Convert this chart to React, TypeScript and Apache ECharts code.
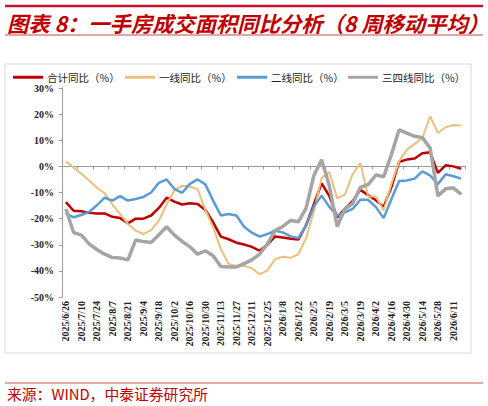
import React, { useEffect, useRef } from 'react';
import * as echarts from 'echarts';

const dates = [
  '2025/6/26', '2025/7/3', '2025/7/10', '2025/7/17', '2025/7/24', '2025/7/31', '2025/8/7', '2025/8/14',
  '2025/8/21', '2025/8/28', '2025/9/4', '2025/9/11', '2025/9/18', '2025/9/25', '2025/10/2', '2025/10/9',
  '2025/10/16', '2025/10/23', '2025/10/30', '2025/11/6', '2025/11/13', '2025/11/20', '2025/11/27', '2025/12/4',
  '2025/12/11', '2025/12/18', '2025/12/25', '2026/1/1', '2026/1/8', '2026/1/15', '2026/1/22', '2026/1/29',
  '2026/2/5', '2026/2/12', '2026/2/19', '2026/2/26', '2026/3/5', '2026/3/12', '2026/3/19', '2026/3/26',
  '2026/4/2', '2026/4/9', '2026/4/16', '2026/4/23', '2026/4/30', '2026/5/7', '2026/5/14', '2026/5/21',
  '2026/5/28', '2026/6/4', '2026/6/11', '2026/6/18',
];

const totalYoY = [
  -13.7, -17, -17.2, -17.8, -18, -18, -19.3, -19.8, -21.8, -20, -20, -18.8, -15.9, -12, -13.5, -14.6,
  -14.1, -14.4, -16.7, -21.4, -26.9, -27.9, -29.2, -29.9, -30.8, -32.3, -30, -26.8, -27.2, -27.7, -28, -22.5,
  -14.5, -6.5, -11.4, -19.5, -16.3, -13.3, -9, -11, -13, -15.5, -8, 1.8, 2.6, 3, 5, 5.4,
  -2.5, 0.4, 0, -0.9,
];

const tier1YoY = [
  2, -0.5, -2.8, -5.4, -8.2, -10.3, -14.6, -18.2, -22, -24.6, -25.9, -24.4, -20.8, -14.5, -9.2, -7.4,
  -7.7, -8.8, -16.7, -23.3, -31.7, -37.4, -38.1, -38.1, -39, -41.3, -39.8, -35.5, -34.6, -35, -33.6, -27.4,
  -17.2, -4.5, -2.2, -12.2, -10.8, -3, 1.3, -11.5, -11.5, -16.9, -6.7, 2, 6.4, 8.6, 10.8, 19.2,
  12.8, 15, 15.8, 15.6,
];

const tier2YoY = [
  -18, -19.5, -18.6, -17.4, -14.9, -12, -13.1, -11.4, -13.1, -12.5, -11.7, -10, -6.3, -5, -8.6, -10.1,
  -6.7, -5, -6.9, -13.1, -18.8, -18.2, -18.8, -23.1, -25.4, -26.9, -25.9, -24.6, -25.3, -26.8, -27.4, -22.7,
  -15.3, -11.2, -15.5, -18.8, -17.6, -16.3, -12.8, -12.8, -15.6, -19.8, -12.6, -5.6, -5.4, -4.7, -1.9, -3.5,
  -6.8, -3, -3.8, -4.7,
];

const tier34YoY = [
  -16.3, -25.3, -26.3, -29.7, -31.8, -33.6, -34.9, -35.1, -35.8, -28.2, -28.8, -29.1, -26.2, -23.1, -26.3, -28.7,
  -30.8, -33.6, -32.3, -34.2, -38.3, -38.5, -38.5, -37.2, -35.8, -33.6, -29.7, -24.6, -23, -20.7, -21.2, -16,
  -3.5, 2.5, -7.5, -23, -16.3, -14.3, -8, -7, -3.3, -4, 4.5, 14, 12.7, 11.5, 11, 7,
  -11.3, -8.6, -8.2, -10.7,
];

const seriesNames = ['合计同比（%）', '一线同比（%）', '二线同比（%）', '三四线同比（%）'];
const seriesColors = ['#C00000', '#EBC07A', '#5B9BD5', '#A5A5A5'];
const seriesWidths = [2.5, 2, 2.5, 3.5];
const legendLefts = [13, 125, 237, 348];

const titleText = '图表 8：一手房成交面积同比分析（8 周移动平均）';
const sourceText = '来源：WIND，中泰证券研究所';

const serif = '"Liberation Serif", "Times New Roman", serif';
const cjk = '"Noto Sans CJK SC", sans-serif';

export default function App() {
  const ref = useRef<HTMLDivElement>(null);

  useEffect(() => {
    if (!ref.current) return;
    const chart = echarts.init(ref.current, undefined, { renderer: 'svg' });
    const values = [totalYoY, tier1YoY, tier2YoY, tier34YoY];

    chart.setOption({
      animation: false,
      backgroundColor: '#ffffff',
      grid: { left: 62, right: 23, top: 88, bottom: 109, containLabel: false },
      legend: seriesNames.map((name, i) => ({
        data: [name],
        left: legendLefts[i],
        top: 72,
        padding: 0,
        icon: 'rect',
        itemWidth: 30,
        itemHeight: 3,
        itemGap: 5,
        selectedMode: false,
        textStyle: { fontSize: 10.5, lineHeight: 10, color: '#222', fontFamily: cjk, padding: [0, 0, 0, -1] },
      })),
      xAxis: {
        type: 'category',
        data: dates,
        boundaryGap: true,
        axisLine: { lineStyle: { color: '#999', width: 1 } },
        axisTick: { show: true, interval: 1, length: 3, lineStyle: { color: '#999' } },
        axisLabel: {
          interval: 1,
          rotate: 90,
          margin: 4,
          fontSize: 10,
          fontWeight: 'bold',
          fontFamily: serif,
          color: '#222',
        },
        splitLine: { show: false },
      },
      yAxis: {
        type: 'value',
        min: -50,
        max: 30,
        interval: 10,
        axisLine: { show: true, lineStyle: { color: '#999', width: 1 } },
        axisTick: { show: true, length: 3, lineStyle: { color: '#999' } },
        axisLabel: {
          formatter: (v: number) => `${v}%`,
          margin: 8,
          fontSize: 10,
          lineHeight: 10,
          fontWeight: 'bold',
          fontFamily: serif,
          color: '#222',
        },
        splitLine: { show: false },
      },
      series: seriesNames.map((name, i) => ({
        name,
        type: 'line',
        data: values[i],
        symbol: 'none',
        smooth: false,
        lineStyle: { color: seriesColors[i], width: seriesWidths[i] },
        itemStyle: { color: seriesColors[i] },
      })),
      graphic: [
        { type: 'line', shape: { x1: 5, y1: 6, x2: 483, y2: 6 }, style: { stroke: '#C8102E', lineWidth: 2.5 } },
        { type: 'line', shape: { x1: 5, y1: 35, x2: 483, y2: 35 }, style: { stroke: '#D04A4A', lineWidth: 1.2 } },
        {
          type: 'text',
          x: 7,
          y: 22,
          style: {
            text: titleText,
            fill: '#C00000',
            fontSize: 21.3,
            fontWeight: 'bold',
            fontStyle: 'italic',
            fontFamily: cjk,
            verticalAlign: 'middle',
          },
        },
        { type: 'rect', shape: { x: 5, y: 64, width: 466, height: 289 }, style: { fill: 'none', stroke: '#D9D9D9', lineWidth: 1 }, z: -1 },
        { type: 'line', shape: { x1: 5, y1: 383, x2: 483, y2: 383 }, style: { stroke: '#D05050', lineWidth: 1 } },
        {
          type: 'text',
          x: 7,
          y: 393,
          style: {
            text: sourceText,
            fill: '#C00000',
            fontSize: 14.8,
            fontFamily: cjk,
            verticalAlign: 'middle',
          },
        },
      ],
    });

    return () => chart.dispose();
  }, []);

  return (
    <div
      ref={ref}
      style={{ position: 'fixed', left: 0, top: 0, width: 488, height: 406, background: '#fff' }}
    />
  );
}
